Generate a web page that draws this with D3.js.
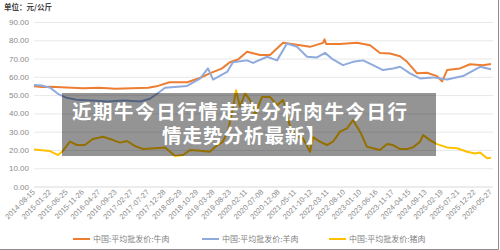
<!DOCTYPE html>
<html>
<head>
<meta charset="utf-8">
<script src="https://cdn.jsdelivr.net/npm/d3@7"></script>
<style>
  body { margin: 0; background: #fff; }
  svg { display: block; font-family: "Noto Sans CJK SC", "Noto Sans", sans-serif; }
</style>
</head>
<body>
<figure style="margin:0"></figure>
<script>
// tick labels on the category axis (every ~110th trading day)
const dateLabels = ["2014-08-15","2015-01-22","2015-06-25","2015-11-26","2016-04-27","2016-09-23",
  "2017-02-27","2017-07-27","2017-12-28","2018-05-29","2018-10-29","2019-03-28","2019-08-23",
  "2020-02-11","2020-07-08","2020-12-08","2021-05-11","2021-10-12","2022-03-11","2022-08-10",
  "2023-01-10","2023-06-16","2023-11-17","2024-04-15","2024-09-13","2025-02-19","2025-07-21",
  "2025-12-22","2026-05-27"];

const seriesNames = ["中国:平均批发价:牛肉", "中国:平均批发价:羊肉", "中国:平均批发价:猪肉"];

// [position on the label axis, price in 元/公斤]
const beef = [[0,54.9],[0.5,54.5],[1,54.6],[2,54.2],[3,53.8],[4,54],[5,53.5],[6,53.8],[7,54],
  [7.5,54.8],[8.3,57],[9.4,57],[10.2,59.5],[10.8,62],[11.5,64.5],[12,68],[12.5,69.5],[13.05,73.7],
  [13.85,71.9],[14.46,72],[15.26,78.6],[16.3,77.3],[16.91,76.4],[17.71,78.6],[17.8,80.5],[17.9,78],
  [18.75,77.9],[19.79,78.6],[20.59,77.3],[21.2,73],[21.81,72.8],[22.43,71.3],[22.86,68.2],
  [23.47,61.9],[24.08,62.2],[24.69,60.4],[25,57.5],[25.31,63.7],[26.1,64.6],[26.72,66.9],
  [27.51,66.4],[28,67]];

const mutton = [[0,55.5],[0.5,55.2],[1,54],[1.5,50.5],[2,48.5],[2.6,47.5],[3.5,47],[4.5,46.5],
  [5.5,47],[6.5,46.5],[7.1,48],[7.5,50.5],[8.03,54],[9.38,55],[10.17,59],[10.66,64.6],[10.97,58.5],
  [11.83,62.7],[12.19,68],[13.05,69],[13.42,67.6],[14.28,71],[14.89,69],[15.5,78.2],[16.12,76.4],
  [16.73,71],[17.34,70.6],[17.83,73.1],[18.32,69.5],[18.93,66.4],[19.55,68.2],[20.16,69],
  [20.77,66.4],[21.38,63.7],[22,64.6],[22.43,65.5],[23.04,61.9],[23.65,59.1],[24.45,59.7],
  [25.31,58.5],[26.29,60.4],[27.33,65.5],[28,64.2]];

const pork = [[0,20.3],[0.98,19.4],[1.47,17.2],[1.72,19],[2.2,24.5],[2.63,22.7],[3.12,22.7],[3.6,26],
  [4.23,27.2],[4.84,25.4],[5.27,24],[5.7,24.9],[6.19,22.1],[6.68,20.5],[7.41,20.9],[8.03,21.4],
  [8.64,16.7],[9.13,17.2],[9.56,20],[10.17,19.6],[10.78,19],[11.09,21.6],[11.58,24.5],[11.89,30.9],
  [12.13,40],[12.38,52.7],[12.62,43.6],[12.93,50.9],[13.24,47.3],[13.54,39],[13.97,49],[14.46,49],
  [14.89,44.5],[15.26,47.3],[15.69,32.7],[16.12,27.2],[16.48,26.3],[16.91,19],[17.1,27],[17.52,24.5],
  [17.95,22.7],[18.32,24.5],[18.75,30],[19.18,31.8],[19.55,36.3],[19.98,30],[20.4,21.7],[20.77,20.9],
  [21.2,20],[21.63,23.2],[22,22.7],[22.43,20.5],[22.86,20.5],[23.22,21.4],[23.65,24.5],[23.84,28.1],
  [24.26,25.4],[24.69,23.2],[25.31,21.4],[25.92,20.9],[26.53,19],[27.02,18.1],[27.33,18.6],
  [27.76,15.4],[28,15.7]];

const yTicks = [0, 10, 20, 30, 40, 50, 60, 70, 80, 90];
const colors = ["#ED7D31", "#8FAADC", "#FFC000"];

const headline = ["近期牛今日行情走势分析肉牛今日行", "情走势分析最新】"];

const width = 500;
const height = 250;
const margin = ({top: 22, right: 9, bottom: 63.5, left: 34});

const figure = d3.select("figure");
const svg = figure.append("svg")
    .attr("width", width)
    .attr("height", height);

const x = d3.scaleLinear()
    .domain([0, dateLabels.length - 1])
    .range([margin.left, width - margin.right]);

const y = d3.scaleLinear()
    .domain([0, 90])
    .range([height - margin.bottom, margin.top]);

// unit label
svg.append("text")
    .attr("x", 4)
    .attr("y", 10)
    .attr("font-size", 7.5)
    .attr("font-weight", "bold")
    .attr("fill", "#404040")
    .text("单位：元/公斤");

// gridlines + y labels
const yAxis = d3.axisLeft(y)
    .tickValues(yTicks)
    .tickFormat(d3.format(".2f"))
    .tickSize(-(width - margin.right - margin.left + 2))
    .tickPadding(5);

svg.append("g")
    .attr("transform", `translate(${margin.left},0)`)
    .call(yAxis)
    .call(g => g.select(".domain").remove())
    .call(g => g.selectAll(".tick line").attr("stroke", d => d === 0 ? "#d9d9d9" : "#e8e8e8"))
    .call(g => g.selectAll(".tick text")
        .attr("font-size", 8)
        .attr("fill", "#8a8a8a")
        .attr("font-family", "Liberation Sans, Arial, sans-serif"));

// x labels, rotated
const xAxis = d3.axisBottom(x)
    .tickValues(d3.range(dateLabels.length))
    .tickFormat(i => dateLabels[i])
    .tickSize(0);

svg.append("g")
    .attr("transform", `translate(0,${y(0)})`)
    .call(xAxis)
    .call(g => g.select(".domain").remove())
    .call(g => g.selectAll(".tick text")
        .attr("font-size", 7.5)
        .attr("fill", "#8a8a8a")
        .attr("font-family", "Liberation Sans, Arial, sans-serif")
        .attr("text-anchor", "end")
        .attr("dy", null)
        .attr("y", 0)
        .attr("transform", "translate(1,6) rotate(-45)"));

// the three price lines
const line = d3.line()
    .x(d => x(d[0]))
    .y(d => y(d[1]));

svg.append("g")
    .selectAll("path")
    .data([beef, mutton, pork])
    .join("path")
      .attr("d", line)
      .attr("fill", "none")
      .attr("stroke", (d, i) => colors[i])
      .attr("stroke-width", 2)
      .attr("stroke-linejoin", "round");

// legend
const legendX = [73, 202, 329];
const legend = svg.append("g")
    .selectAll("g")
    .data(seriesNames)
    .join("g")
      .attr("transform", (d, i) => `translate(${legendX[i]},239)`);

legend.append("line")
    .attr("x1", 0)
    .attr("x2", 17)
    .attr("stroke", (d, i) => colors[i])
    .attr("stroke-width", 2);

legend.append("text")
    .attr("x", 20)
    .attr("dy", "0.35em")
    .attr("font-size", 8)
    .attr("fill", "#7f7f7f")
    .text(d => d);

// grey caption box laid over the chart
svg.append("rect")
    .attr("x", 62)
    .attr("y", 93)
    .attr("width", 374)
    .attr("height", 63)
    .attr("fill", "rgba(0,0,0,0.42)");

// caption, two lines like the source (the lines sit close together)
svg.append("text")
    .attr("x", 72)
    .attr("y", 110.5)
    .attr("dominant-baseline", "central")
    .attr("textLength", 335)
    .attr("lengthAdjust", "spacing")
    .attr("font-size", 19.5)
    .attr("font-weight", "bold")
    .attr("fill", "#fff")
    .text(headline[0]);

svg.append("text")
    .attr("x", 162)
    .attr("y", 134.5)
    .attr("dominant-baseline", "central")
    .attr("textLength", 163)
    .attr("lengthAdjust", "spacing")
    .attr("font-size", 19.5)
    .attr("font-weight", "bold")
    .attr("fill", "#fff")
    .text(headline[1]);

// frame on the right and bottom edge
svg.append("path")
    .attr("d", `M${width - 1.5},0V${height - 0.5}H0`)
    .attr("fill", "none")
    .attr("stroke", "#8c8c8c");
</script>
</body>
</html>
